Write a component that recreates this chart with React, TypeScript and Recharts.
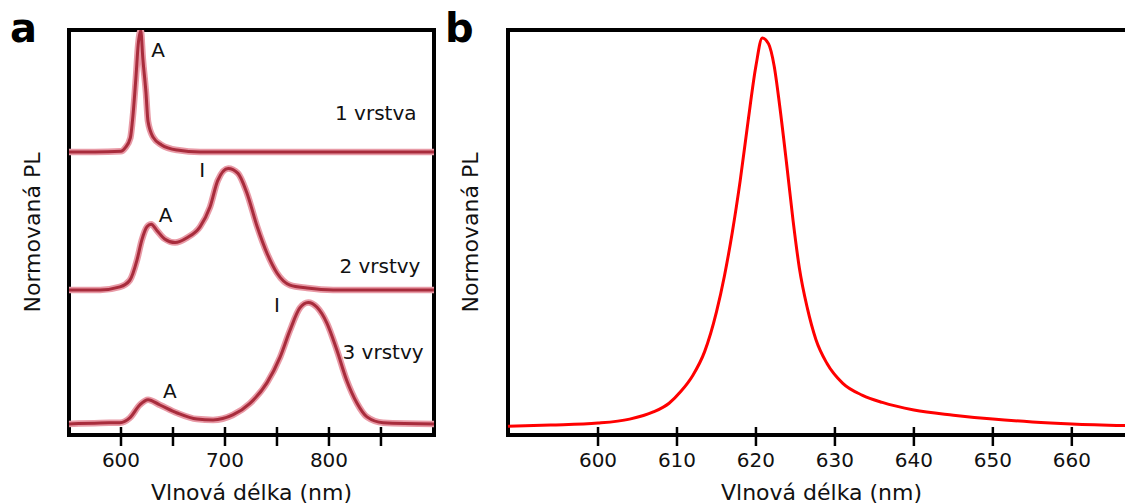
import React from 'react'
import { Line, LineChart, ReferenceArea, ReferenceDot, XAxis, YAxis } from 'recharts'

// panel a – normalized PL spectra, stacked by layer count
const layer1Nm = [550, 575, 600, 604, 609, 611.5, 614.5, 616.5, 619, 621, 624, 626, 631, 639, 654, 676, 750, 901]
const layer1Pl = [0, 0, 0.005, 0.033, 0.115, 0.3, 0.63, 0.88, 1.0, 0.77, 0.49, 0.25, 0.12, 0.058, 0.016, 0, 0, 0]

const layer2Nm = [550, 580, 599, 608.5, 615.5, 620, 625, 629, 634.5, 642, 652, 663.5, 676, 685.5, 693, 703, 712.5, 721, 731, 740.5, 750, 762.5, 779, 804, 901]
const layer2Pl = [0, 0, 0.025, 0.08, 0.25, 0.41, 0.52, 0.54, 0.49, 0.42, 0.39, 0.43, 0.52, 0.68, 0.9, 1.0, 0.96, 0.8, 0.52, 0.3, 0.14, 0.04, 0.016, 0, 0]

const layer3Nm = [550, 580, 599, 608.5, 618, 626, 637.5, 654, 673, 688.5, 707.5, 724, 740.5, 753, 762.5, 772, 780, 788.5, 798, 807.5, 817, 827, 836.5, 852, 901]
const layer3Pl = [0, 0.008, 0.01, 0.05, 0.156, 0.2, 0.156, 0.09, 0.04, 0.033, 0.074, 0.17, 0.34, 0.55, 0.77, 0.955, 1.0, 0.96, 0.83, 0.61, 0.36, 0.17, 0.058, 0.01, 0]

const layerOffsets = [2.346, 1.21, 0.107]
const ticksA = [600, 650, 700, 750, 800, 850]
const labelledA = [600, 700, 800]

const notesA = [
  { nm: 635.6, y: 3.19, text: 'A' },
  { nm: 845, y: 2.67, text: '1 vrstva' },
  { nm: 678, y: 2.2, text: 'I' },
  { nm: 643, y: 1.83, text: 'A' },
  { nm: 849, y: 1.41, text: '2 vrstvy' },
  { nm: 750, y: 1.09, text: 'I' },
  { nm: 852, y: 0.7, text: '3 vrstvy' },
  { nm: 647, y: 0.38, text: 'A' }
]

// panel b – single layer spectrum
const singleNm = [588.6, 594, 600, 604, 607, 609, 610.5, 612, 613.5, 615, 616, 617, 618, 619, 620, 620.8, 621.6, 622.3, 623, 623.9, 624.7, 625.5, 626.5, 627.6, 629, 631, 633.5, 636, 640, 645, 650, 655, 660, 668]
const singlePl = [0.022, 0.025, 0.03, 0.04, 0.058, 0.08, 0.11, 0.15, 0.21, 0.31, 0.4, 0.51, 0.64, 0.79, 0.93, 1.0, 0.985, 0.93, 0.83, 0.68, 0.54, 0.42, 0.32, 0.24, 0.18, 0.13, 0.1, 0.082, 0.063, 0.05, 0.04, 0.033, 0.028, 0.023]
const ticksB = [600, 610, 620, 630, 640, 650, 660]

const toPoints = (nm: number[], pl: number[], offset = 0) => nm.map((x, i) => ({ x, y: pl[i] + offset }))

const font = 'DejaVu Sans, Verdana, sans-serif'

function AxisTick(props: any) {
  const { x, y, payload, labelled } = props
  const show = !labelled || labelled.includes(payload.value)
  return (
    <g>
      <line x1={x} x2={x} y1={y - 8} y2={y + 11} stroke="#000" strokeWidth={2.5} />
      {show && (
        <text x={x} y={y + 32} textAnchor="middle" fontSize={20} fill="#111" fontFamily={font}>
          {payload.value}
        </text>
      )}
    </g>
  )
}

const xTitle = { value: 'Vlnová délka (nm)', position: 'insideBottom' as const, offset: 4, fontSize: 22, fill: '#111' }

export default function App() {
  const layers = [
    toPoints(layer1Nm, layer1Pl, layerOffsets[0]),
    toPoints(layer2Nm, layer2Pl, layerOffsets[1]),
    toPoints(layer3Nm, layer3Pl, layerOffsets[2])
  ]
  const single = toPoints(singleNm, singlePl)

  return (
    <div style={{ position: 'absolute', left: 0, top: 0, width: 1125, height: 504, overflow: 'hidden', background: '#fff' }}>
      <div style={{ position: 'absolute', left: 0, top: 0 }}>
        <LineChart width={450} height={504} margin={{ top: 30, right: 16, bottom: 0, left: 0 }} style={{ fontFamily: font }}>
          <XAxis
            type="number"
            dataKey="x"
            domain={[550, 901]}
            ticks={ticksA}
            interval={0}
            height={69}
            axisLine={false}
            tickLine={false}
            tickSize={0}
            tickMargin={0}
            tick={<AxisTick labelled={labelledA} />}
            label={xTitle}
          />
          <YAxis
            type="number"
            dataKey="y"
            domain={[0.016, 3.35]}
            allowDataOverflow
            width={69}
            axisLine={false}
            tickLine={false}
            tick={false}
            label={{ value: 'Normovaná PL', angle: -90, position: 'insideLeft', offset: 32, fontSize: 22, fill: '#111', style: { textAnchor: 'middle' } }}
          />
          {layers.map((pts, i) => (
            <Line key={'h' + i} data={pts} dataKey="y" type="monotone" stroke="#e89aa6" strokeWidth={6.5} dot={false} activeDot={false} isAnimationActive={false} />
          ))}
          {layers.map((pts, i) => (
            <Line key={'c' + i} data={pts} dataKey="y" type="monotone" stroke="#a82c3c" strokeWidth={3} dot={false} activeDot={false} isAnimationActive={false} />
          ))}
          {notesA.map((n, i) => (
            <ReferenceDot
              key={i}
              x={n.nm}
              y={n.y}
              r={0}
              fill="none"
              stroke="none"
              ifOverflow="visible"
              label={{ value: n.text, position: 'center', fontSize: 20, fill: '#111' }}
            />
          ))}
          <ReferenceArea x1={550} x2={901} y1={0.016} y2={3.35} fill="none" stroke="#000" strokeWidth={4} ifOverflow="visible" />
        </LineChart>
      </div>

      <div style={{ position: 'absolute', left: 440, top: 0 }}>
        <LineChart width={700} height={504} margin={{ top: 30, right: 5, bottom: 0, left: 0 }} style={{ fontFamily: font }}>
          <XAxis
            type="number"
            dataKey="x"
            domain={[588.6, 668]}
            ticks={ticksB}
            interval={0}
            height={69}
            axisLine={false}
            tickLine={false}
            tickSize={0}
            tickMargin={0}
            tick={<AxisTick />}
            label={xTitle}
          />
          <YAxis
            type="number"
            dataKey="y"
            domain={[0, 1.02]}
            allowDataOverflow
            width={68}
            axisLine={false}
            tickLine={false}
            tick={false}
            label={{ value: 'Normovaná PL', angle: -90, position: 'insideLeft', offset: 30, fontSize: 22, fill: '#111', style: { textAnchor: 'middle' } }}
          />
          <Line data={single} dataKey="y" type="monotone" stroke="#ff0000" strokeWidth={3} dot={false} activeDot={false} isAnimationActive={false} />
          <ReferenceArea x1={588.6} x2={668} y1={0} y2={1.02} fill="none" stroke="#000" strokeWidth={4} ifOverflow="visible" />
        </LineChart>
      </div>

      <svg width={1125} height={504} style={{ position: 'absolute', left: 0, top: 0, pointerEvents: 'none' }}>
        <text x={10} y={42} fontSize={40} fontWeight="bold" fontFamily={font} fill="#000">a</text>
        <text x={445} y={42} fontSize={40} fontWeight="bold" fontFamily={font} fill="#000">b</text>
      </svg>
    </div>
  )
}
